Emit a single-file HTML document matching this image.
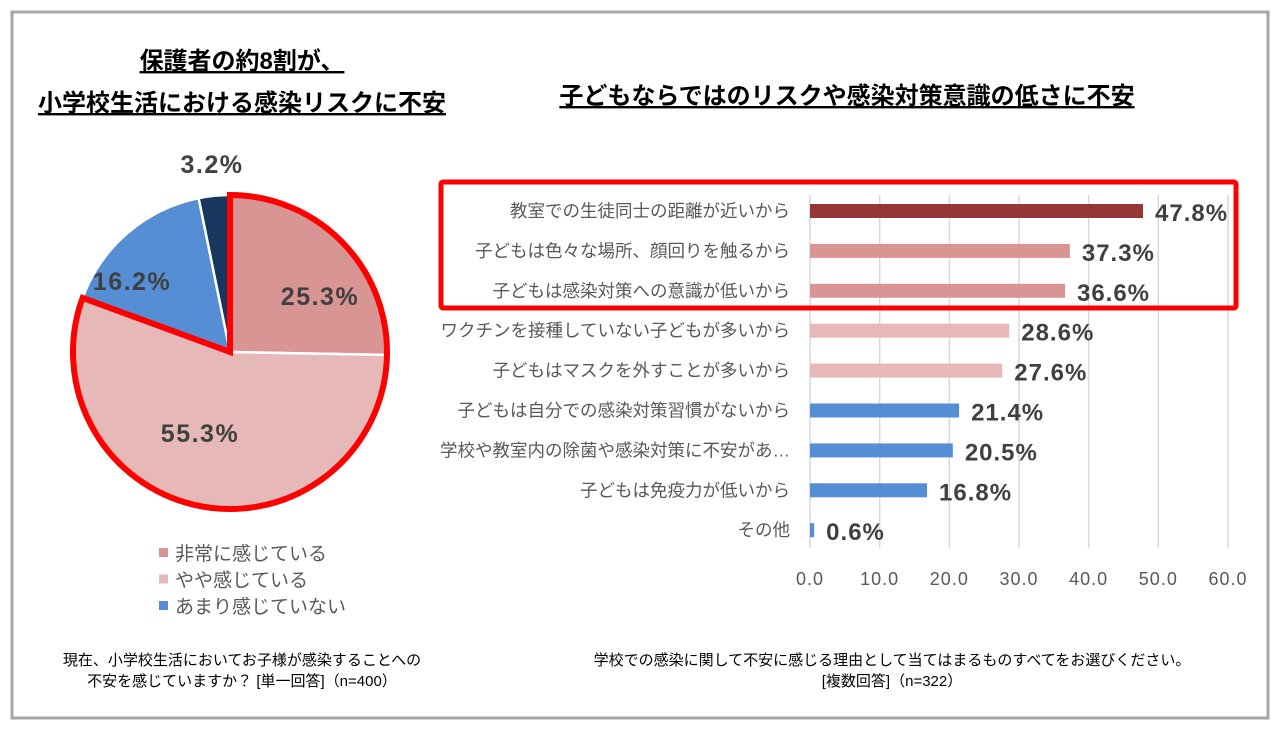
<!DOCTYPE html>
<html><head><meta charset="utf-8">
<style>
body{margin:0;background:#fff;}
svg text{font-family:"Liberation Sans","Noto Sans CJK JP",sans-serif;}
</style></head>
<body>
<svg width="1281" height="733" viewBox="0 0 1281 733" xmlns="http://www.w3.org/2000/svg">
<rect x="12" y="12" width="1256" height="706" fill="#fff" stroke="#a6a6a6" stroke-width="3"/>
<g font-size="24" font-weight="bold" fill="#000" text-anchor="middle">
<text x="242" y="69" text-decoration="underline">保護者の約8割が、</text>
<text x="242" y="111" text-decoration="underline">小学校生活における感染リスクに不安</text>
</g>
<text x="847" y="104" font-size="24" font-weight="bold" text-anchor="middle" text-decoration="underline">子どもならではのリスクや感染対策意識の低さに不安</text>
<g id="pie"></g>
<g id="legend"></g>
<g id="bars"></g>
<rect x="441" y="182" width="795" height="126" fill="none" stroke="#ff0000" stroke-width="5" rx="2"/>
<g font-size="15" fill="#000" text-anchor="middle">
<text x="242" y="665">現在、小学校生活においてお子様が感染することへの</text>
<text x="242" y="686">不安を感じていますか？ [単一回答]（n=400）</text>
</g>
<g font-size="15" fill="#000" text-anchor="middle">
<text x="892" y="665">学校での感染に関して不安に感じる理由として当てはまるものすべてをお選びください。</text>
<text x="892" y="686">[複数回答]（n=322）</text>
</g>
</svg>
<script>
const pieLabels=["非常に感じている","やや感じている","あまり感じていない","全く感じていない"];
const pieValues=[25.3,55.3,16.2,3.2];
const pieColors=["#d99594","#e6b9b8","#558ed5","#17375e"];
const barCats=["教室での生徒同士の距離が近いから","子どもは色々な場所、顔回りを触るから","子どもは感染対策への意識が低いから","ワクチンを接種していない子どもが多いから","子どもはマスクを外すことが多いから","子どもは自分での感染対策習慣がないから","学校や教室内の除菌や感染対策に不安があ…","子どもは免疫力が低いから","その他"];
const barValues=[47.8,37.3,36.6,28.6,27.6,21.4,20.5,16.8,0.6];
const barColors=["#953735","#d99594","#d99594","#e6b9b8","#e6b9b8","#558ed5","#558ed5","#558ed5","#558ed5"];
const xTicks=[0,10,20,30,40,50,60];
const NS="http://www.w3.org/2000/svg";
function mk(tag,attrs,parent){const e=document.createElementNS(NS,tag);for(const k in attrs)e.setAttribute(k,attrs[k]);parent.appendChild(e);return e;}
const pie=document.getElementById('pie');
const cx=230,cy=352,R=157;
const total=pieValues.reduce((a,b)=>a+b,0);
function pt(a,r){return [cx+r*Math.sin(a),cy-r*Math.cos(a)];}
let ang=0;const angs=[];
pieValues.forEach((v,i)=>{
 const a0=ang,a1=ang+v/total*2*Math.PI;angs.push([a0,a1]);ang=a1;
 const p0=pt(a0,R),p1=pt(a1,R);const large=(a1-a0)>Math.PI?1:0;
 const p=mk('path',{d:`M${cx},${cy}L${p0[0]},${p0[1]}A${R},${R} 0 ${large} 1 ${p1[0]},${p1[1]}Z`,fill:pieColors[i],stroke:'#fff','stroke-width':2.5},pie);
 
 
});
{const a0=angs[0][0],a1=angs[1][1];const p0=pt(a0,R),p1=pt(a1,R);
 const o=mk('path',{d:`M${cx},${cy}L${p0[0]},${p0[1]}A${R},${R} 0 1 1 ${p1[0]},${p1[1]}Z`,fill:'none',stroke:'#ff0000','stroke-width':6,'stroke-linejoin':'miter'},pie);
 
 }
const labelPos=[[320,296],[200,433],[132,281],[212,164]];
pieValues.forEach((v,i)=>{
 const t=mk('text',{x:labelPos[i][0],y:labelPos[i][1]+9,'font-size':25,'font-weight':'bold',fill:'#404040','text-anchor':'middle','letter-spacing':1.5},pie);
 t.textContent=v.toFixed(1)+'%';
 
 
});
const lg=document.getElementById('legend');
for(let i=0;i<3;i++){
 const y=553+i*26.5;
 const r=mk('rect',{x:159,y:y-5,width:9,height:9,fill:pieColors[i]},lg);
 
 
 const t=mk('text',{x:175,y:y+7,'font-size':19,fill:'#595959'},lg);
 t.textContent=pieLabels[i];
 
 
}
const bg=document.getElementById('bars');
const x0=810,xs=(1228-810)/60;
function X(v){return x0+v*xs;}
const rowY0=211,rowStep=39.9;
function Y(i){return rowY0+i*rowStep;}
xTicks.forEach(t=>{
 const l=mk('line',{x1:X(t),x2:X(t),y1:195,y2:548,stroke:'#d9d9d9','stroke-width':1.5},bg);
 
 
 const tx=mk('text',{x:X(t),y:585,'font-size':18,fill:'#595959','text-anchor':'middle','letter-spacing':1},bg);
 tx.textContent=t.toFixed(1);
 
 
});
barCats.forEach((c,i)=>{
 const y=Y(i);
 const r=mk('rect',{x:x0,y:y-7,width:Math.max(X(barValues[i])-x0,2),height:14,fill:barColors[i]},bg);
 
 
 const t=mk('text',{x:790,y:y+6,'font-size':17.5,fill:'#595959','text-anchor':'end'},bg);
 t.textContent=c;
 
 
 const v=mk('text',{x:X(barValues[i])+12,y:y+10,'font-size':24,'font-weight':'bold',fill:'#404040','letter-spacing':1},bg);
 v.textContent=barValues[i].toFixed(1)+'%';
 
 
});
</script>
</body></html>
